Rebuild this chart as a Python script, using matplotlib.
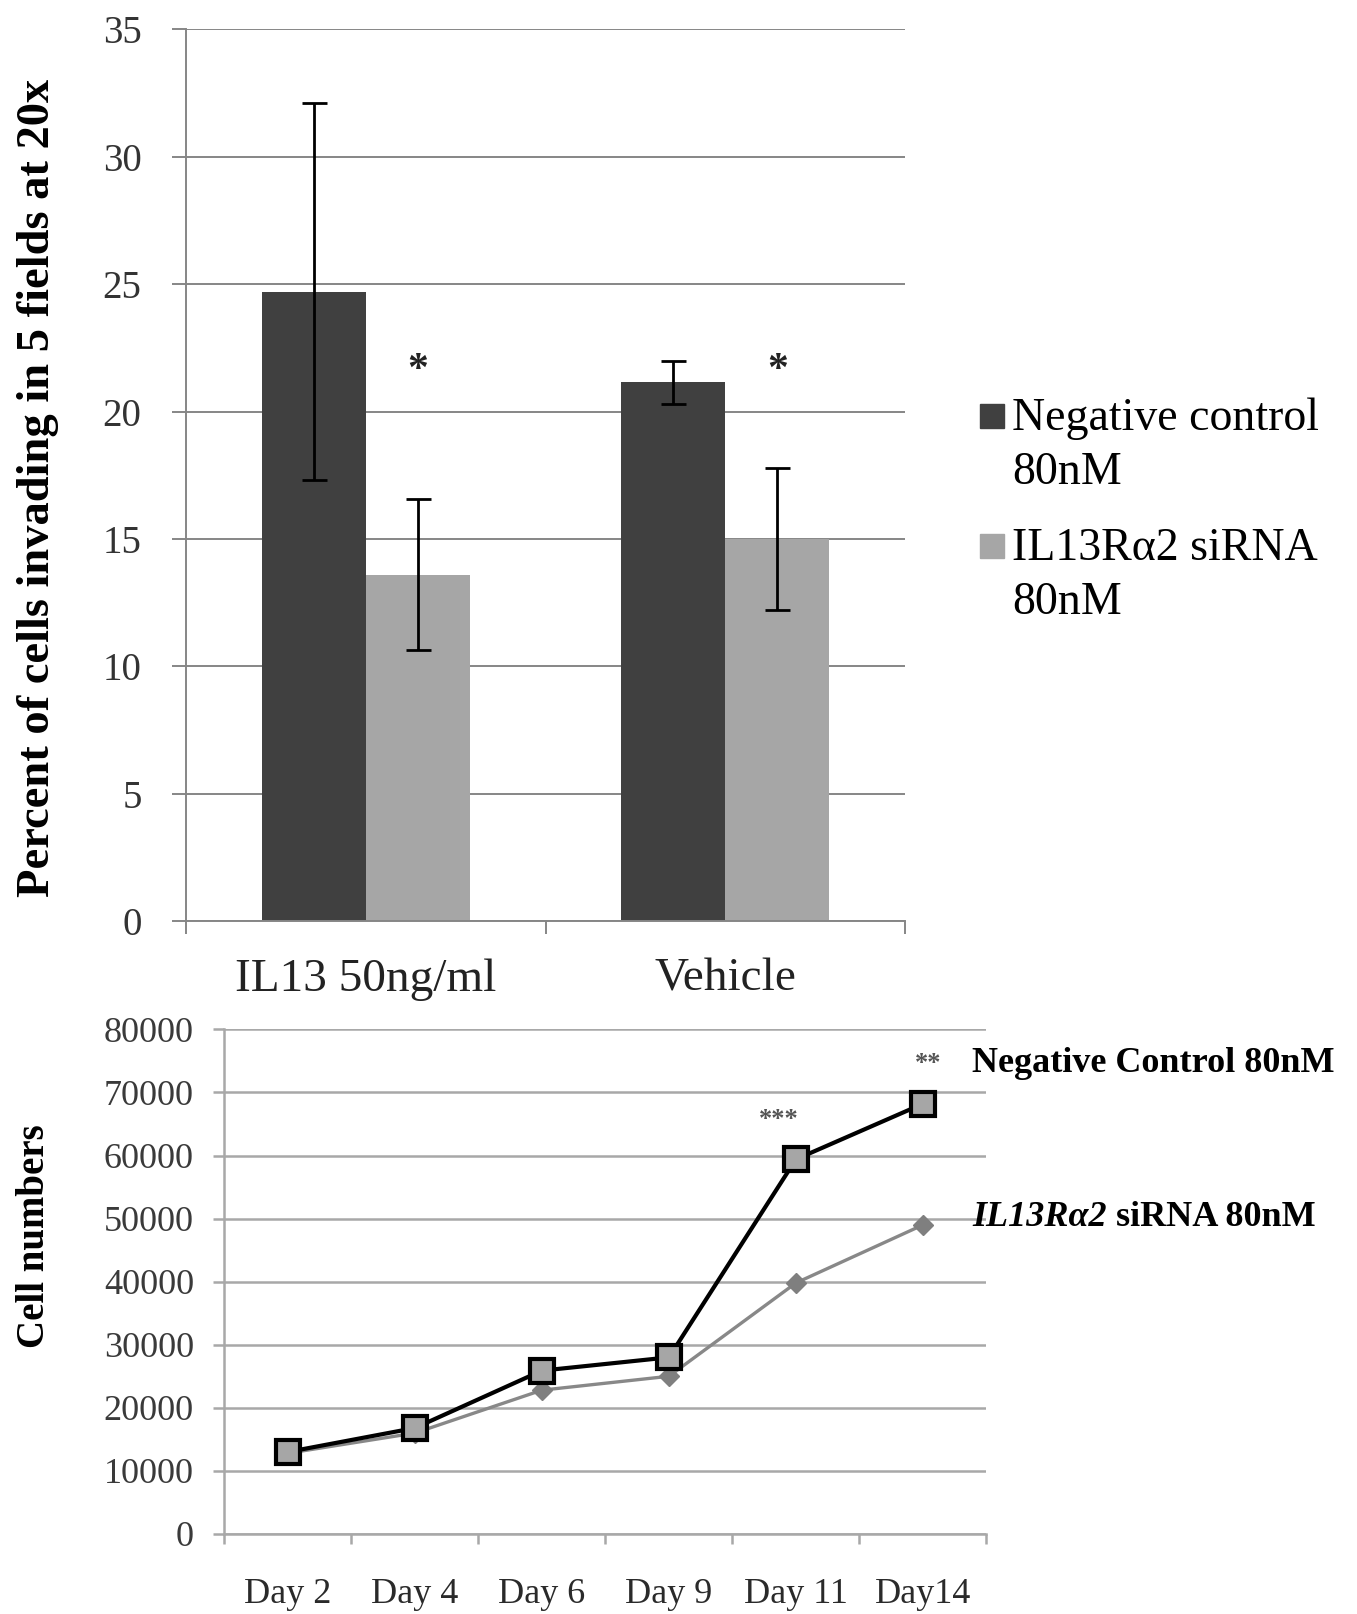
import numpy as np
import matplotlib
matplotlib.use("Agg")
import matplotlib.pyplot as plt
from matplotlib.patches import Rectangle

plt.rcParams['font.family'] = ['Liberation Serif', 'DejaVu Serif']

# ---------------- data: top bar chart ----------------
bar_categories = ["IL13 50ng/ml", "Vehicle"]
neg_control = [24.7, 21.15]
neg_control_err = [7.4, 0.85]
il13ra2_sirna = [13.6, 15.0]
il13ra2_sirna_err = [2.95, 2.8]
bar_yticks = [0, 5, 10, 15, 20, 25, 30, 35]
bar_series_labels = ["Negative control\n80nM", "IL13R\u03b12 siRNA\n80nM"]
star_level = 21.6

# ---------------- data: bottom line chart ----------------
days = ["Day 2", "Day 4", "Day 6", "Day 9", "Day 11", "Day14"]
neg_control_cells = [13000, 16800, 25900, 28000, 59400, 68200]
sirna_cells = [12800, 16000, 22800, 25000, 39800, 49000]
line_yticks = [0, 10000, 20000, 30000, 40000, 50000, 60000, 70000, 80000]
significance = {4: "***", 5: "**"}

DARK = '#404040'
LIGHT = '#a6a6a6'
GRID1 = '#868686'
GRID2 = '#a8a8a8'

fig = plt.figure(figsize=(13.57, 16.14), dpi=100)

# ================= top chart =================
ax1 = fig.add_axes([0.1371, 0.4294, 0.5298, 0.5528])
x = np.arange(len(bar_categories))
w = 0.29
ax1.bar(x - w / 2, neg_control, w, color=DARK, zorder=2)
ax1.bar(x + w / 2, il13ra2_sirna, w, color=LIGHT, zorder=2)
ax1.errorbar(x - w / 2, neg_control, yerr=neg_control_err, fmt='none',
             ecolor='black', elinewidth=2, capsize=9, capthick=2, zorder=3)
ax1.errorbar(x + w / 2, il13ra2_sirna, yerr=il13ra2_sirna_err, fmt='none',
             ecolor='black', elinewidth=2, capsize=9, capthick=2, zorder=3)
for xi in x:
    ax1.text(xi + w / 2, star_level, "*", ha='center', va='center',
             fontsize=30, fontweight='bold', color='#222222')

ax1.set_xlim(-0.5, len(bar_categories) - 0.5)
ax1.set_ylim(0, 35.03)
ax1.set_yticks(bar_yticks)
ax1.set_yticklabels([str(v) for v in bar_yticks])
ax1.yaxis.grid(True, color=GRID1, lw=1.4, zorder=0)
ax1.set_axisbelow(True)
for s in ['top', 'right']:
    ax1.spines[s].set_visible(False)
for s in ['left', 'bottom']:
    ax1.spines[s].set_color(GRID1)
    ax1.spines[s].set_linewidth(1.4)
ax1.tick_params(axis='y', direction='out', length=10, width=1.4, color=GRID1,
                labelsize=28, labelcolor='#333333', pad=22)
ax1.set_xticks(np.arange(-0.5, len(bar_categories)), minor=False)
ax1.set_xticklabels([])
ax1.set_xticks(x, minor=True)
ax1.set_xticklabels(bar_categories, minor=True)
ax1.tick_params(axis='x', which='major', direction='out', length=9, width=1.4, color=GRID1)
ax1.tick_params(axis='x', which='minor', length=0, labelsize=34, pad=27, labelcolor='#222222')
ax1.set_ylabel("Percent of cells invading in 5 fields at 20x", fontsize=33.5,
               fontweight='bold')
ax1.yaxis.set_label_coords(-0.177, 0.485)

# legend (manual, figure coordinates)
leg_colors = [DARK, LIGHT]
leg_y = [416, 546]
for col, lab, yc in zip(leg_colors, bar_series_labels, leg_y):
    sq = 24
    fig.add_artist(Rectangle((980 / 1357, 1 - (yc + sq / 2) / 1614), sq / 1357, sq / 1614,
                             transform=fig.transFigure, color=col))
    l1, l2 = lab.split("\n")
    fig.text(1012 / 1357, 1 - (yc + 3) / 1614, l1, fontsize=33, va='center', ha='left')
    fig.text(1012 / 1357, 1 - (yc + 57) / 1614, l2, fontsize=33, va='center', ha='left')

# ================= bottom chart =================
ax2 = fig.add_axes([0.1654, 0.0496, 0.5615, 0.3126])
xd = np.arange(len(days))
ax2.plot(xd, sirna_cells, color='#888888', lw=2.4, marker='D', markersize=10,
         markerfacecolor='#7f7f7f', markeredgecolor='#7f7f7f', zorder=3)
ax2.plot(xd, neg_control_cells, color='black', lw=3, marker='s', markersize=17,
         markerfacecolor=LIGHT, markeredgecolor='black', markeredgewidth=3, zorder=4)
for i, s in significance.items():
    ax2.annotate(s, xy=(xd[i], neg_control_cells[i]), xytext=(-12 if len(s) == 3 else 4, 29),
                 textcoords='offset points', ha='center', va='center',
                 fontsize=19, fontweight='bold', color='#555555')

ax2.set_xlim(-0.5, len(days) - 0.5)
ax2.set_ylim(0, 80000)
ax2.set_yticks(line_yticks)
ax2.set_yticklabels([str(v) for v in line_yticks])
ax2.yaxis.grid(True, color=GRID2, lw=1.8, zorder=0)
ax2.set_axisbelow(True)
for s in ['top', 'right']:
    ax2.spines[s].set_visible(False)
for s in ['left', 'bottom']:
    ax2.spines[s].set_color(GRID2)
    ax2.spines[s].set_linewidth(1.8)
ax2.tick_params(axis='y', direction='out', length=8, width=1.8, color=GRID2,
                labelsize=26, labelcolor='#3a3a3a', pad=14)
ax2.set_xticks(np.arange(-0.5, len(days)), minor=False)
ax2.set_xticklabels([])
ax2.set_xticks(xd, minor=True)
ax2.set_xticklabels(days, minor=True)
ax2.tick_params(axis='x', which='major', direction='out', length=7, width=1.8, color=GRID2)
ax2.tick_params(axis='x', which='minor', length=0, labelsize=26, pad=32, labelcolor='#2a2a2a')
ax2.set_ylabel("Cell numbers", fontsize=28, fontweight='bold')
ax2.yaxis.set_label_coords(-0.2245, 0.59)

# series labels at right of bottom chart
fig.text(972 / 1357, 1 - 1063 / 1614, "Negative Control 80nM", fontsize=26,
         fontweight='bold', va='center', ha='left')
t1 = fig.text(972 / 1357, 1 - 1217 / 1614, "IL13R\u03b12", fontsize=26,
              fontweight='bold', fontstyle='italic', va='center', ha='left')
fig.add_artist(plt.matplotlib.text.Annotation(
    " siRNA 80nM", xy=(1, 0), xycoords=t1, ha='left', va='bottom',
    fontsize=26, fontweight='bold', annotation_clip=False))

fig.savefig("out.png", dpi=100)
